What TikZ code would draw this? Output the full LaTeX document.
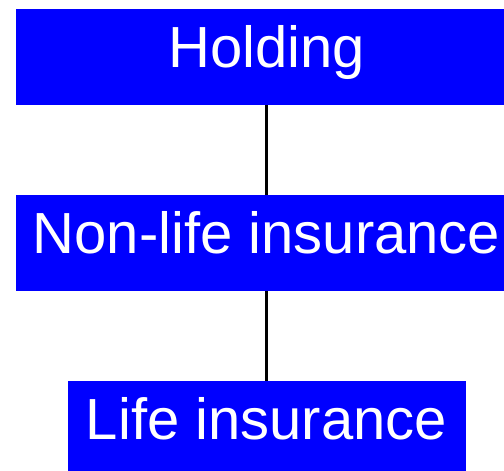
\documentclass[tikz,border=0pt]{standalone}
\usepackage{fontspec}
\setmainfont{Liberation Sans}

\definecolor{unitblue}{RGB}{0,0,255}
\tikzstyle{unit}=[rectangle, inner sep=0, minimum height=96pt, fill=unitblue,
  text=white, font=\fontsize{58}{60}\selectfont, text height=41.5pt, text depth=21.5pt]
\tikzstyle{link}=[line width=2.4pt, black]

\begin{document}
\begin{tikzpicture}[x=1pt, y=-1pt]

\useasboundingbox (0, 0) rectangle (504, 471);

\node [unit, minimum width=501pt] (holding) at (266.5, 57) {Holding};
\node [unit, minimum width=501pt] (nonlife) at (266.5, 243) {Non-life insurance};
\node [unit, minimum width=398pt] (life) at (266.5, 429) {Life insurance};

\draw [link] (holding) to (nonlife);
\draw [link] (nonlife) to (life);

\end{tikzpicture}
\end{document}
